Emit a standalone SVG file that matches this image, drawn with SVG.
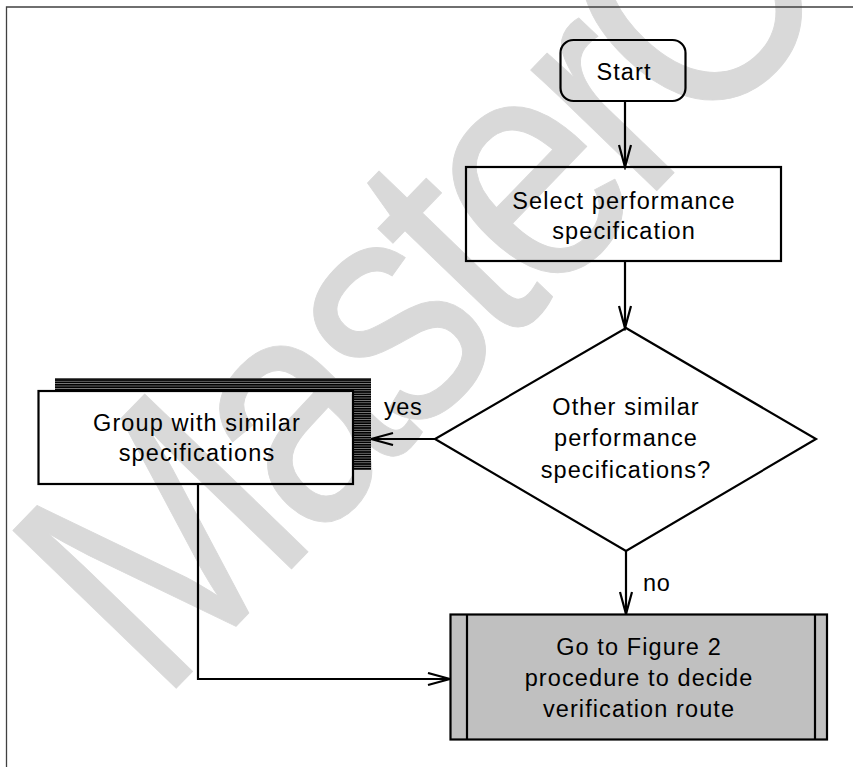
<svg xmlns="http://www.w3.org/2000/svg" width="853" height="767" viewBox="0 0 853 767">
<defs>
<style>
.lbl{font-family:"Liberation Sans",Arial,sans-serif;font-size:23.5px;letter-spacing:1.1px;fill:#000;text-anchor:middle}
.lbl2{font-family:"Liberation Sans",Arial,sans-serif;font-size:23.5px;letter-spacing:0.6px;fill:#000}
.box{fill:none;stroke:#000;stroke-width:2.2}
.con{fill:none;stroke:#000;stroke-width:2.2}
.wm{font-family:"Liberation Sans",Arial,sans-serif;font-size:330px;fill:#d9d9d9;stroke:#d9d9d9;stroke-width:1;stroke-linejoin:round;letter-spacing:-18px}
</style>
<marker id="arr" markerUnits="userSpaceOnUse" markerWidth="26" markerHeight="16" refX="23" refY="7" orient="auto">
<path d="M1,1 L23,7 L1,13" fill="none" stroke="#000" stroke-width="2.2"/>
</marker>
<pattern id="hatch" patternUnits="userSpaceOnUse" width="6" height="2.4">
<rect width="6" height="2.4" fill="#000"/>
<rect y="1.7" width="6" height="0.6" fill="#fff" fill-opacity="0.7"/>
</pattern>
</defs>
<rect width="853" height="767" fill="#fff"/>
<g id="watermark">
<text class="wm" x="0" y="0" transform="translate(160 705) rotate(-46) scale(0.86 1)">MasterC</text>
</g>
<g id="frame">
<path d="M6.5,767 V7 H853" fill="none" stroke="#404040" stroke-width="1.3"/>
</g>
<g id="connectors">
<line class="con" x1="625" y1="101" x2="625" y2="167" marker-end="url(#arr)"/>
<line class="con" x1="625" y1="261" x2="625" y2="328" marker-end="url(#arr)"/>
<line class="con" x1="435" y1="439" x2="371" y2="439" marker-end="url(#arr)"/>
<line class="con" x1="626" y1="551" x2="626" y2="614" marker-end="url(#arr)"/>
<path class="con" d="M198,484 V679 H450" marker-end="url(#arr)"/>
<text class="lbl2" x="384" y="415">yes</text>
<text class="lbl2" x="643" y="591">no</text>
</g>
<g id="start">
<rect class="box" x="560.5" y="40" width="125" height="61" rx="13" ry="13"/>
<text class="lbl" x="624" y="80">Start</text>
</g>
<g id="select">
<rect class="box" x="466" y="167" width="315" height="94"/>
<text class="lbl" x="624" y="209">Select performance</text>
<text class="lbl" x="624" y="239">specification</text>
</g>
<g id="decision">
<polygon class="box" points="626,328 816,439 626,551 435,439"/>
<text class="lbl" x="626" y="415">Other similar</text>
<text class="lbl" x="626" y="446">performance</text>
<text class="lbl" x="626" y="478">specifications?</text>
</g>
<g id="group">
<path d="M55,378 H371 V470 H353 V391 H55 Z" fill="url(#hatch)"/>
<rect class="box" x="38.5" y="391" width="314.5" height="93"/>
<text class="lbl" x="197" y="431">Group with similar</text>
<text class="lbl" x="197" y="461">specifications</text>
</g>
<g id="subprocess">
<rect x="450.5" y="614.5" width="376.5" height="125" fill="#c0c0c0" stroke="#000" stroke-width="2.2"/>
<line x1="467" y1="614.5" x2="467" y2="739.5" stroke="#000" stroke-width="2.2"/>
<line x1="815" y1="614.5" x2="815" y2="739.5" stroke="#000" stroke-width="2.2"/>
<text class="lbl" x="639" y="655">Go to Figure 2</text>
<text class="lbl" x="639" y="686">procedure to decide</text>
<text class="lbl" x="639" y="717">verification route</text>
</g>
</svg>
